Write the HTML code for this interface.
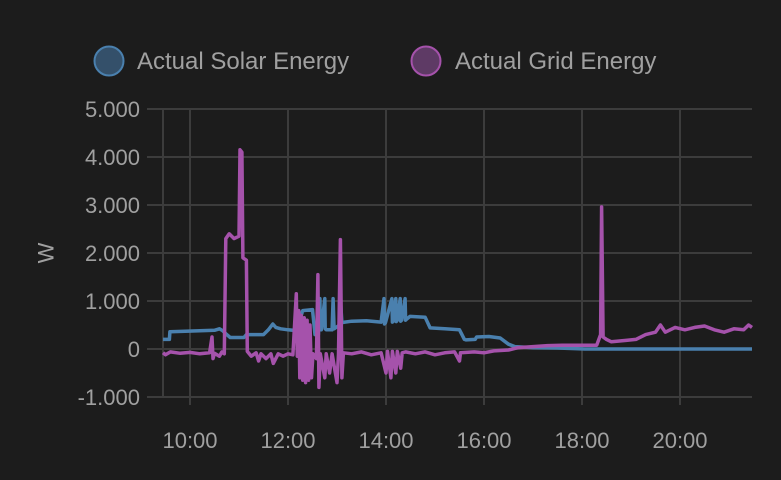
<!DOCTYPE html>
<html><head><meta charset="utf-8"><style>
html,body{margin:0;padding:0;background:#1c1c1c;}
svg{display:block;font-family:"Liberation Sans",sans-serif;}
</style></head><body>
<svg id="chart" width="781" height="480">
  <g id="legend">
    <g>
      <circle cx="109" cy="61" r="14.5" fill="#34506a" stroke="#4a80ae" stroke-width="2"/>
      <text x="137" y="69" font-size="24" fill="#a0a0a0">Actual Solar Energy</text>
    </g>
    <g>
      <circle cx="426" cy="61" r="14.5" fill="#5e3a65" stroke="#a552ab" stroke-width="2"/>
      <text x="455" y="69" font-size="24" fill="#a0a0a0">Actual Grid Energy</text>
    </g>
  </g>
  <g id="grid"></g>
  <g id="yaxis"></g>
  <g id="xaxis"></g>
  <text x="46" y="253" font-size="22" fill="#a0a0a0" text-anchor="middle" transform="rotate(-90 46 253)" dominant-baseline="central">W</text>
  <g id="series"></g>
</svg>
<script>
const yTicks=[5000,4000,3000,2000,1000,0,-1000];
const yTickLabels=["5.000","4.000","3.000","2.000","1.000","0","-1.000"];
const xTicks=[10,12,14,16,18,20];
const xTickLabels=["10:00","12:00","14:00","16:00","18:00","20:00"];
const solarTimes=[9.45,9.58,9.59,9.9,10.2,10.5,10.6,10.67,10.75,10.82,11.1,11.15,11.5,11.6,11.69,11.75,11.85,12.0,12.2,12.24,12.3,12.5,12.55,12.62,12.65,12.66,12.68,12.75,12.76,12.78,12.9,12.92,12.94,13.05,13.07,13.1,13.16,13.3,13.6,13.9,13.96,13.97,13.99,14.12,14.13,14.15,14.2,14.21,14.23,14.29,14.3,14.32,14.39,14.4,14.42,14.49,14.8,14.9,15.2,15.5,15.6,15.63,15.82,15.85,16.1,16.33,16.5,16.63,17.0,17.5,18.06,18.1,21.47];
const solarValues=[200,200,360,370,380,390,420,380,300,240,240,300,300,400,520,450,420,400,380,600,800,820,300,300,1050,400,400,1050,420,400,400,1050,420,500,1050,550,560,580,590,560,1050,520,550,1050,560,580,1050,570,600,1050,580,600,1050,600,620,680,660,440,420,400,200,190,200,250,260,230,100,50,30,20,0,0,0];
const gridTimes=[9.45,9.5,9.6,9.8,10.0,10.2,10.4,10.45,10.47,10.5,10.6,10.65,10.7,10.73,10.8,10.9,11.0,11.02,11.06,11.08,11.15,11.17,11.25,11.35,11.4,11.45,11.55,11.65,11.7,11.8,11.9,12.0,12.1,12.17,12.19,12.22,12.24,12.27,12.3,12.33,12.36,12.39,12.42,12.45,12.48,12.51,12.58,12.61,12.63,12.66,12.75,12.78,12.85,12.9,13.0,13.03,13.07,13.1,13.13,13.3,13.5,13.7,13.9,14.0,14.03,14.1,14.13,14.2,14.23,14.3,14.33,14.4,14.6,14.8,15.0,15.2,15.4,15.5,15.52,15.8,16.0,16.2,16.5,16.7,17.0,17.3,17.6,18.0,18.3,18.38,18.4,18.43,18.5,18.6,18.9,19.1,19.3,19.5,19.6,19.7,19.9,20.1,20.3,20.5,20.7,20.9,21.1,21.3,21.4,21.47];
const gridValues=[-80,-120,-60,-90,-70,-100,-80,250,-200,-90,-150,-60,-100,2300,2400,2300,2350,4150,4100,1900,1850,-50,-150,-80,-250,-100,-200,-100,-300,-100,-150,-100,-120,1150,-150,800,-600,700,-650,650,-700,600,-650,500,-600,-100,-200,1550,-800,-100,-600,-100,-500,-100,-700,-100,2280,-600,-80,-100,-60,-120,-80,-500,-50,-600,-50,-500,-50,-400,-80,-60,-100,-60,-120,-80,-60,-250,-80,-60,-80,-40,-20,30,50,70,80,80,80,300,2960,250,200,150,180,200,300,350,500,350,450,400,450,480,400,350,420,400,500,450];
const X0=163,X1=752;
function xs(h){return 190+(h-10)*49;}
function ys(v){return 349-v*0.048;}
const NS="http://www.w3.org/2000/svg";
function mk(tag,attrs,parent){const e=document.createElementNS(NS,tag);for(const k in attrs)e.setAttribute(k,attrs[k]);parent.appendChild(e);return e;}
const g=document.getElementById('grid'),ya=document.getElementById('yaxis'),xa=document.getElementById('xaxis'),ser=document.getElementById('series');
yTicks.forEach((t,i)=>{
  const l=mk('line',{x1:147,x2:X1,y1:ys(t),y2:ys(t),stroke:'#3c3c3c','stroke-width':2},g);
  
  
  const tx=mk('text',{x:140,y:ys(t)+8,'font-size':22,fill:'#a0a0a0','text-anchor':'end'},ya);
  tx.textContent=yTickLabels[i];
  
  
});
const lb=mk('line',{x1:X0,x2:X0,y1:ys(5000),y2:ys(-1000),stroke:'#3c3c3c','stroke-width':2},g);


xTicks.forEach((t,i)=>{
  const l=mk('line',{x1:xs(t),x2:xs(t),y1:ys(5000),y2:ys(-1000)+8,stroke:'#3c3c3c','stroke-width':2},g);
  
  
  const tx=mk('text',{x:xs(t),y:448,'font-size':22,fill:'#a0a0a0','text-anchor':'middle'},xa);
  tx.textContent=xTickLabels[i];
  
  
});
function path(ts,vs){return ts.map((t,i)=>(i?'L':'M')+xs(t).toFixed(1)+','+ys(vs[i]).toFixed(1)).join('');}
const ps=mk('path',{d:path(solarTimes,solarValues),fill:'none',stroke:'#4a80ae','stroke-width':3.5,'stroke-linejoin':'round'},ser);


const pg=mk('path',{d:path(gridTimes,gridValues),fill:'none',stroke:'#a552ab','stroke-width':3.5,'stroke-linejoin':'round'},ser);


</script>
</body></html>
